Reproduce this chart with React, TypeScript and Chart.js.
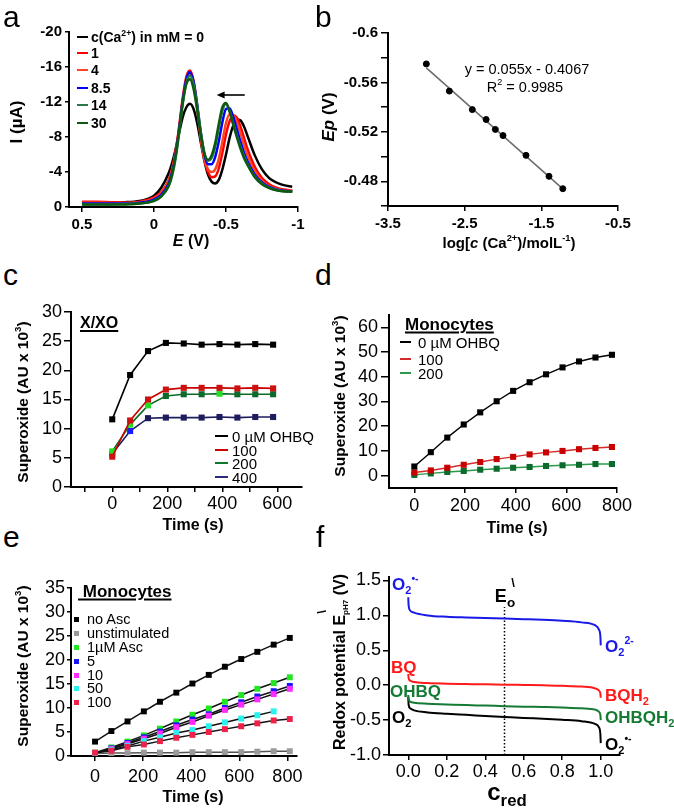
import React, { useEffect, useRef } from 'react';
import { Chart, registerables } from 'chart.js';

Chart.register(...registerables);

const FONT = "'Liberation Sans', Arial, Helvetica, sans-serif";

/* ---------------- a: differential pulse voltammograms ---------------- */
const A_E = [0.5, 0.4, 0.3, 0.2, 0.1, 0.05, 0, -0.05, -0.1, -0.125, -0.15, -0.175, -0.2, -0.225, -0.25, -0.275, -0.3, -0.325, -0.35, -0.375, -0.4, -0.425, -0.45, -0.475, -0.5, -0.525, -0.55, -0.575, -0.6, -0.625, -0.65, -0.7, -0.75, -0.8, -0.85, -0.9, -0.96];
const A_CA0 = [-0.5, -0.5, -0.5, -0.55, -0.7, -0.9, -1.3, -2.2, -3.8, -5.0, -6.6, -8.5, -10.3, -11.4, -11.8, -11.2, -9.6, -7.4, -5.3, -3.7, -2.9, -2.7, -3.1, -4.3, -6.0, -7.9, -9.3, -10.0, -9.9, -9.2, -8.1, -5.9, -4.3, -3.3, -2.8, -2.5, -2.3];
const A_CA1 = [-0.6, -0.6, -0.55, -0.5, -0.6, -0.8, -1.1, -1.7, -3.0, -4.3, -6.3, -9.2, -12.5, -14.9, -15.6, -14.4, -11.5, -8.0, -5.4, -4.0, -3.4, -3.5, -4.4, -6.2, -8.3, -9.8, -10.5, -10.2, -9.2, -7.9, -6.6, -4.6, -3.3, -2.6, -2.2, -2.0, -1.9];
const A_CA4 = [-0.5, -0.5, -0.45, -0.45, -0.55, -0.7, -1.0, -1.6, -2.9, -4.2, -6.2, -9.1, -12.3, -14.6, -15.3, -14.1, -11.3, -7.9, -5.5, -4.3, -4.0, -4.3, -5.5, -7.5, -9.6, -10.6, -10.5, -9.7, -8.5, -7.1, -5.9, -4.1, -3.0, -2.4, -2.1, -1.9, -1.85];
const A_CA8_5 = [-0.4, -0.4, -0.4, -0.4, -0.5, -0.6, -0.85, -1.4, -2.6, -3.9, -5.9, -8.9, -12.2, -14.6, -15.4, -14.3, -11.7, -8.5, -6.0, -4.9, -4.9, -5.7, -7.5, -9.7, -11.2, -11.3, -10.3, -8.9, -7.5, -6.2, -5.2, -3.7, -2.8, -2.3, -2.0, -1.85, -1.8];
const A_CA14 = [-0.3, -0.3, -0.3, -0.35, -0.4, -0.5, -0.7, -1.2, -2.3, -3.5, -5.5, -8.5, -11.8, -14.2, -15.0, -14.0, -11.6, -8.6, -6.2, -5.3, -5.6, -6.9, -9.0, -11.0, -11.8, -11.0, -9.6, -8.2, -6.9, -5.8, -4.9, -3.5, -2.7, -2.2, -1.95, -1.8, -1.75];
const A_CA30 = [-0.3, -0.3, -0.3, -0.3, -0.4, -0.5, -0.7, -1.2, -2.4, -3.7, -5.8, -8.8, -12.0, -14.1, -14.6, -13.5, -11.1, -8.3, -6.1, -5.4, -5.9, -7.3, -9.5, -11.4, -11.9, -10.9, -9.4, -8.0, -6.7, -5.6, -4.8, -3.4, -2.6, -2.15, -1.9, -1.8, -1.75];
const A_SERIES = [A_CA0, A_CA1, A_CA4, A_CA8_5, A_CA14, A_CA30];
const A_LEGEND = ['0', '1', '4', '8.5', '14', '30'];
const A_COLORS = ['#000000', '#ff0000', '#ff4422', '#0000ff', '#2a7a48', '#0c5a12'];
const A_X_TICKS = [0.5, 0, -0.5, -1];
const A_X_LABELS = ['0.5', '0', '-0.5', '-1'];
const A_Y_TICKS = [-20, -16, -12, -8, -4, 0];
const A_ARROW = { from: -0.63, to: -0.435, at: -12.8 };

/* ---------------- b: Ep vs log c ---------------- */
const B_LOGC = [-3.0, -2.7, -2.4, -2.22, -2.1, -2.0, -1.7, -1.4, -1.22];
const B_EP = [-0.575, -0.553, -0.538, -0.53, -0.522, -0.517, -0.501, -0.484, -0.474];
const B_FIT_X = [-3.0, -1.22];
const B_FIT_Y = [-0.5717, -0.4738];
const B_X_TICKS = [-3.5, -2.5, -1.5, -0.5];
const B_Y_TICKS = [-0.6, -0.58, -0.56, -0.54, -0.52, -0.5, -0.48, -0.46];
const B_Y_LABELS = ['-0.6', '', '-0.56', '', '-0.52', '', '-0.48', ''];

/* ---------------- c: X/XO ---------------- */
const C_T = [0, 65, 130, 195, 260, 325, 390, 455, 520, 585];
const C_OHBQ0 = [11.6, 19.2, 23.3, 24.7, 24.6, 24.4, 24.5, 24.4, 24.5, 24.4];
const C_OHBQ100 = [5.2, 11.4, 15.0, 16.7, 17.0, 17.0, 17.0, 16.9, 17.0, 16.9];
const C_OHBQ200 = [6.1, 10.7, 14.0, 15.6, 15.9, 15.9, 16.0, 15.9, 15.9, 15.9];
const C_OHBQ400 = [5.7, 9.6, 11.8, 11.9, 11.9, 11.9, 12.0, 11.9, 12.0, 12.0];
const C_LEGEND = ['0 µM OHBQ', '100', '200', '400'];
const C_X_TICKS = [-100, 0, 100, 200, 300, 400, 500, 600];
const C_X_LABELS = ['', '0', '', '200', '', '400', '', '600'];
const C_Y_TICKS = [0, 5, 10, 15, 20, 25, 30];

/* ---------------- d: monocytes OHBQ ---------------- */
const D_T = [0, 65, 130, 195, 260, 325, 390, 455, 520, 585, 650, 715, 780];
const D_OHBQ0 = [3.7, 9.5, 15.4, 20.7, 25.6, 30.1, 34.3, 37.8, 41.0, 43.8, 46.2, 47.8, 48.9];
const D_OHBQ100 = [1.3, 2.1, 3.2, 4.4, 5.5, 6.7, 7.6, 8.6, 9.4, 10.0, 10.7, 11.2, 11.6];
const D_OHBQ200 = [0.3, 0.9, 1.5, 1.9, 2.4, 2.8, 3.2, 3.5, 3.9, 4.2, 4.4, 4.7, 4.7];
const D_LEGEND = ['0 µM OHBQ', '100', '200'];
const D_X_TICKS = [0, 200, 400, 600, 800];
const D_Y_TICKS = [0, 10, 20, 30, 40, 50, 60];

/* ---------------- e: monocytes ascorbate ---------------- */
const E_T = [0, 68, 135, 203, 270, 338, 405, 473, 540, 608, 675, 743, 810];
const E_NOASC = [3.0, 5.2, 7.2, 9.3, 11.3, 13.2, 15.1, 16.9, 18.6, 20.2, 21.7, 23.2, 24.6];
const E_UNSTIM = [0.5, 0.6, 0.6, 0.7, 0.7, 0.7, 0.8, 0.8, 0.8, 0.8, 0.9, 1.0, 1.0];
const E_ASC1 = [0.7, 1.8, 3.0, 4.3, 5.7, 7.2, 8.6, 9.9, 11.3, 12.7, 14.0, 15.2, 16.4];
const E_ASC5 = [0.6, 1.6, 2.7, 3.9, 5.1, 6.4, 7.6, 8.7, 10.0, 11.2, 12.4, 13.5, 14.6];
const E_ASC10 = [0.6, 1.5, 2.5, 3.6, 4.7, 6.0, 7.1, 8.4, 9.6, 10.7, 11.8, 12.9, 14.0];
const E_ASC50 = [0.6, 1.3, 2.1, 3.1, 3.9, 4.8, 5.4, 6.2, 7.0, 7.8, 8.5, 9.3];
const E_ASC100 = [0.7, 1.1, 1.9, 2.4, 3.1, 3.8, 4.4, 5.0, 5.6, 6.2, 6.8, 7.4, 7.7];
const E_LEGEND = ['no Asc', 'unstimulated', '1µM Asc', '5', '10', '50', '100'];
const E_COLORS = ['#000000', '#9a9a9a', '#22e622', '#1414ff', '#ff2aff', '#2af0f0', '#f0204a'];
const E_X_TICKS = [0, 200, 400, 600, 800];
const E_Y_TICKS = [0, 5, 10, 15, 20, 25, 30, 35];

/* ---------------- f: redox potentials ---------------- */
const F_C = [0, 0.002, 0.01, 0.03, 0.1, 0.2, 0.3, 0.4, 0.5, 0.6, 0.7, 0.8, 0.9, 0.97, 0.99, 0.998, 1.0];
const F_O2M = [1.26, 1.14, 1.07, 1.04, 1.0, 0.98, 0.97, 0.962, 0.955, 0.946, 0.936, 0.922, 0.9, 0.86, 0.8, 0.7, 0.57];
const F_BQ = [0.16, 0.1, 0.065, 0.045, 0.03, 0.022, 0.017, 0.012, 0.008, 0.003, -0.002, -0.008, -0.02, -0.045, -0.075, -0.12, -0.18];
const F_OHBQ = [-0.14, -0.2, -0.235, -0.25, -0.265, -0.275, -0.285, -0.292, -0.3, -0.307, -0.313, -0.32, -0.33, -0.35, -0.38, -0.43, -0.5];
const F_O2 = [-0.17, -0.28, -0.33, -0.36, -0.39, -0.41, -0.425, -0.44, -0.455, -0.47, -0.48, -0.495, -0.515, -0.555, -0.6, -0.7, -0.83];
const F_E0_X = [0.5, 0.5];
const F_E0_Y = [-1.0, 1.12];
const F_X_TICKS = [0, 0.2, 0.4, 0.6, 0.8, 1.0];
const F_Y_TICKS = [-1.0, -0.5, 0, 0.5, 1.0, 1.5];

/* ---------------- helpers ---------------- */
type Box = { left: number; top: number; width: number; height: number; wy: number; hx: number; pt: number; pr: number };
function place(L: number, T: number, R: number, B: number, wy: number, pt: number, pr: number, hx: number): Box {
  return { left: L - wy, top: T - pt, width: wy + (R - L) + pr, height: pt + (B - T) + hx, wy, hx, pt, pr };
}

function axis(o: {
  min: number; max: number; ticks: number[]; labels?: string[]; fmt?: (v: number) => string;
  reverse?: boolean; size: number; tl: number; pad: number; font: any; horizontal: boolean;
}) {
  return {
    type: 'linear',
    min: o.min,
    max: o.max,
    reverse: !!o.reverse,
    afterBuildTicks: (s: any) => {
      s.ticks = o.ticks.map((v) => ({ value: v }));
    },
    afterFit: (s: any) => {
      if (o.horizontal) s.height = o.size;
      else s.width = o.size;
    },
    grid: { drawOnChartArea: false, drawTicks: true, tickLength: o.tl, tickWidth: 1.5, tickColor: '#000', color: '#000', lineWidth: 1.5 },
    border: { display: true, color: '#000', width: 2 },
    ticks: {
      color: '#000', font: o.font, padding: o.pad, autoSkip: false, maxRotation: 0, minRotation: 0,
      callback: (v: number, i: number) => (o.labels ? o.labels[i] : o.fmt ? o.fmt(v) : String(v)),
    },
  };
}

function config(box: Box, xs: any, ys: any, datasets: any[], plugins: any[] = []) {
  return {
    type: 'scatter',
    data: { datasets },
    options: {
      responsive: false,
      animation: false,
      devicePixelRatio: 1,
      layout: { padding: { left: 0, top: box.pt, right: box.pr, bottom: 0 } },
      plugins: { legend: { display: false }, tooltip: { enabled: false }, title: { display: false } },
      scales: { x: xs, y: ys },
    },
    plugins,
  };
}

const pts = (xs: number[], ys: number[]) => ys.map((y, i) => ({ x: xs[i], y }));

function ChartCanvas({ box, build }: { box: Box; build: () => any }) {
  const ref = useRef<HTMLCanvasElement | null>(null);
  useEffect(() => {
    if (!ref.current) return;
    const chart = new Chart(ref.current, build());
    return () => chart.destroy();
  }, []);
  return (
    <canvas
      ref={ref}
      width={box.width}
      height={box.height}
      style={{ position: 'absolute', left: box.left, top: box.top, width: box.width, height: box.height }}
    />
  );
}

function Tx(p: { x: number; y: number; s?: number; b?: boolean; i?: boolean; c?: string; rot?: boolean; al?: string; ul?: boolean; sx?: number; children: any }) {
  const tx = p.al === 'l' ? '0%' : p.al === 'r' ? '-100%' : '-50%';
  return (
    <div
      style={{
        position: 'absolute', left: p.x, top: p.y,
        transform: `translate(${tx},-50%)` + (p.rot ? ' rotate(-90deg)' : '') + (p.sx ? ` scaleX(${p.sx})` : ''),
        transformOrigin: p.sx ? 'left center' : undefined,
        fontFamily: FONT, fontSize: p.s ?? 15, fontWeight: p.b ? 'bold' : 'normal', fontStyle: p.i ? 'italic' : 'normal',
        color: p.c ?? '#000', whiteSpace: 'nowrap', lineHeight: 1, textDecoration: p.ul ? 'underline' : 'none',
        textDecorationThickness: p.ul ? 1.5 : undefined, textUnderlineOffset: p.ul ? 2 : undefined,
      }}
    >
      {p.children}
    </div>
  );
}
const Sup = ({ children, f = 0.62 }: any) => (
  <span style={{ fontSize: `${f}em`, position: 'relative', top: '-0.75em' }}>{children}</span>
);
const Sub = ({ children, f = 0.65 }: any) => (
  <span style={{ fontSize: `${f}em`, position: 'relative', top: '0.35em' }}>{children}</span>
);
const Line = ({ x, y, w, c, h = 2.5 }: any) => (
  <div style={{ position: 'absolute', left: x, top: y - h / 2, width: w, height: h, background: c }} />
);
const Sq = ({ x, y, c, s = 5 }: any) => (
  <div style={{ position: 'absolute', left: x - s / 2, top: y - s / 2, width: s, height: s, background: c }} />
);

/* ---------------- boxes ---------------- */
const BOX_A = place(69, 32, 298, 207, 50, 16, 16, 36);
const BOX_B = place(388, 33, 618, 206, 50, 16, 18, 36);
const BOX_C = place(71, 312, 302, 487, 50, 16, 18, 36);
const BOX_D = place(389, 315, 617, 488, 50, 16, 22, 36);
const BOX_E = place(71, 588, 297, 756, 50, 16, 26, 36);
const BOX_F = place(389, 577, 620, 755, 50, 16, 22, 36);

const boldTick = (s: number) => ({ family: FONT, size: s, weight: 'bold' });
const regTick = (s: number) => ({ family: FONT, size: s, weight: 'normal' });

const arrowPlugin = {
  id: 'arrowA',
  afterDatasetsDraw(chart: any) {
    const { ctx, scales } = chart;
    const x1 = scales.x.getPixelForValue(A_ARROW.from);
    const x2 = scales.x.getPixelForValue(A_ARROW.to);
    const y = scales.y.getPixelForValue(A_ARROW.at);
    ctx.save();
    ctx.strokeStyle = '#000';
    ctx.fillStyle = '#000';
    ctx.lineWidth = 1.6;
    ctx.beginPath();
    ctx.moveTo(x1, y);
    ctx.lineTo(x2 + 5, y);
    ctx.stroke();
    ctx.beginPath();
    ctx.moveTo(x2, y);
    ctx.lineTo(x2 + 8, y - 3.5);
    ctx.lineTo(x2 + 8, y + 3.5);
    ctx.closePath();
    ctx.fill();
    ctx.restore();
  },
};

const buildA = () =>
  config(
    BOX_A,
    axis({ min: -1, max: 0.59, reverse: true, ticks: A_X_TICKS, labels: A_X_LABELS, size: BOX_A.hx, tl: 5, pad: 4, font: boldTick(15), horizontal: true }),
    axis({ min: -20, max: 0, reverse: true, ticks: A_Y_TICKS, fmt: (v) => String(v), size: BOX_A.wy, tl: 4, pad: 3, font: boldTick(15), horizontal: false }),
    A_SERIES.map((ys, k) => ({
      data: pts(A_E, ys),
      showLine: true,
      borderColor: A_COLORS[k],
      borderWidth: 2.5,
      pointRadius: 0,
      cubicInterpolationMode: 'monotone',
      order: A_SERIES.length - k,
    })),
    [arrowPlugin]
  );

const buildB = () =>
  config(
    BOX_B,
    axis({ min: -3.5, max: -0.5, ticks: B_X_TICKS, fmt: (v) => v.toFixed(1), size: BOX_B.hx, tl: 5, pad: 4, font: boldTick(15), horizontal: true }),
    axis({ min: -0.6, max: -0.46, reverse: true, ticks: B_Y_TICKS, labels: B_Y_LABELS, size: BOX_B.wy, tl: 7, pad: 3, font: boldTick(15), horizontal: false }),
    [
      { data: pts(B_LOGC, B_EP), showLine: false, pointRadius: 3, pointBackgroundColor: '#000', pointBorderColor: '#000', order: 0 },
      { data: pts(B_FIT_X, B_FIT_Y), showLine: true, borderColor: '#6e6e6e', borderWidth: 1.6, pointRadius: 0, order: 1 },
    ]
  );

const LIME = '#22dd22';
const DKG = '#0c6b2c';
const BLU = '#1a1aff';
const NAVY = '#1c1c5e';
const C_STYLE = [
  { line: '#000000', marks: '#000000' },
  { line: '#cc0000', marks: '#cc1111' },
  { line: '#0b6b25', marks: [LIME, LIME, LIME, DKG, DKG, DKG, LIME, DKG, DKG, DKG] },
  { line: '#1c1c5e', marks: [BLU, BLU, NAVY, NAVY, NAVY, NAVY, NAVY, NAVY, NAVY, NAVY] },
];
const C_LEG_COLORS = ['#000000', '#cc0000', '#0b7a2a', '#2a2a7a'];

const buildC = () =>
  config(
    BOX_C,
    axis({ min: -150, max: 690, ticks: C_X_TICKS, labels: C_X_LABELS, size: BOX_C.hx, tl: 5, pad: 1, font: regTick(18), horizontal: true }),
    axis({ min: 0, max: 30, ticks: C_Y_TICKS, fmt: (v) => String(v), size: BOX_C.wy, tl: 7, pad: 2, font: regTick(18), horizontal: false }),
    [C_OHBQ0, C_OHBQ100, C_OHBQ200, C_OHBQ400].map((ys, k) => ({
      data: pts(C_T, ys),
      showLine: true,
      borderColor: C_STYLE[k].line,
      borderWidth: 1.6,
      pointStyle: 'rect',
      pointRadius: 4.3,
      pointBorderWidth: 0,
      pointBackgroundColor: C_STYLE[k].marks,
      order: k,
    }))
  );

const D_STYLE = [
  { line: '#000000', marks: '#000000' },
  { line: '#d42a2a', marks: '#c80000' },
  { line: '#2a9a4a', marks: '#0c6b2c' },
];

const buildD = () =>
  config(
    BOX_D,
    axis({ min: -100, max: 800, ticks: D_X_TICKS, fmt: (v) => String(v), size: BOX_D.hx, tl: 5, pad: 2, font: regTick(18), horizontal: true }),
    axis({ min: -5, max: 65, ticks: D_Y_TICKS, fmt: (v) => String(v), size: BOX_D.wy, tl: 8, pad: 3, font: regTick(18), horizontal: false }),
    [D_OHBQ0, D_OHBQ100, D_OHBQ200].map((ys, k) => ({
      data: pts(D_T, ys),
      showLine: true,
      borderColor: D_STYLE[k].line,
      borderWidth: 1.4,
      pointStyle: 'rect',
      pointRadius: 4.3,
      pointBorderWidth: 0,
      pointBackgroundColor: D_STYLE[k].marks,
      order: k,
    }))
  );

const buildE = () =>
  config(
    BOX_E,
    axis({ min: -100, max: 840, ticks: E_X_TICKS, fmt: (v) => String(v), size: BOX_E.hx, tl: 5, pad: 5, font: regTick(18), horizontal: true }),
    axis({ min: 0, max: 35, ticks: E_Y_TICKS, fmt: (v) => String(v), size: BOX_E.wy, tl: 4, pad: 2, font: regTick(18), horizontal: false }),
    [E_NOASC, E_UNSTIM, E_ASC1, E_ASC5, E_ASC10, E_ASC50, E_ASC100].map((ys, k) => ({
      data: pts(E_T, ys),
      showLine: true,
      borderColor: k === 1 ? '#555555' : '#111111',
      borderWidth: 1.5,
      pointStyle: 'rect',
      pointRadius: 4.2,
      pointBorderWidth: 0,
      pointBackgroundColor: E_COLORS[k],
      order: k === 0 ? 0 : 7 - k,
    }))
  );

const F_COLORS = ['#1a1ae6', '#ff1a1a', '#147a34', '#000000'];
const buildF = () =>
  config(
    BOX_F,
    axis({ min: -0.1, max: 1.1, ticks: F_X_TICKS, fmt: (v) => v.toFixed(1), size: BOX_F.hx, tl: 5, pad: 1, font: regTick(18), horizontal: true }),
    axis({ min: -1.0, max: 1.55, ticks: F_Y_TICKS, fmt: (v) => v.toFixed(1), size: BOX_F.wy, tl: 6, pad: 2, font: regTick(18), horizontal: false }),
    [
      ...[F_O2M, F_BQ, F_OHBQ, F_O2].map((ys, k) => ({
        data: pts(F_C, ys),
        showLine: true,
        borderColor: F_COLORS[k],
        borderWidth: 2,
        pointRadius: 0,
        cubicInterpolationMode: 'monotone',
        order: k,
      })),
      { data: pts(F_E0_X, F_E0_Y), showLine: true, borderColor: '#000', borderWidth: 1.5, borderDash: [1.5, 2], pointRadius: 0, order: 5 },
    ]
  );

const A_ROWS = [37, 53, 70, 88, 105, 123];
const C_ROWS = [436, 450, 463, 477];
const D_ROWS = [342, 359, 373];
const E_ROWS = [619, 633, 647, 661, 675, 688, 702];

export default function App() {
  return (
    <div style={{ position: 'absolute', left: 0, top: 0, width: 674, height: 810, background: '#fff', overflow: 'hidden' }}>
      <ChartCanvas box={BOX_A} build={buildA} />
      <ChartCanvas box={BOX_B} build={buildB} />
      <ChartCanvas box={BOX_C} build={buildC} />
      <ChartCanvas box={BOX_D} build={buildD} />
      <ChartCanvas box={BOX_E} build={buildE} />
      <ChartCanvas box={BOX_F} build={buildF} />

      {/* panel letters */}
      <Tx x={3} y={17} s={30} al="l">a</Tx>
      <Tx x={315} y={17} s={30} al="l">b</Tx>
      <Tx x={3} y={275} s={30} al="l">c</Tx>
      <Tx x={315} y={275} s={30} al="l">d</Tx>
      <Tx x={3} y={537} s={30} al="l">e</Tx>
      <Tx x={316} y={537} s={30} al="l">f</Tx>

      {/* a */}
      <Tx x={16} y={122} s={17} b rot>I (µA)</Tx>
      <Tx x={191} y={241} s={16} b><i>E</i> (V)</Tx>
      {A_LEGEND.map((t, k) => (
        <React.Fragment key={'al' + k}>
          <Line x={77} y={A_ROWS[k]} w={11} c={A_COLORS[k]} h={2.6} />
          <Tx x={91} y={A_ROWS[k]} s={14} b al="l">
            {k === 0 ? (
              <>c(Ca<Sup>2+</Sup>) in mM = {t}</>
            ) : (
              t
            )}
          </Tx>
        </React.Fragment>
      ))}

      {/* b */}
      <Tx x={328} y={117} s={17} b rot><i>Ep</i> (V)</Tx>
      <Tx x={509} y={243} s={15} b>log[<i>c</i> (Ca<Sup>2+</Sup>)/molL<Sup>-1</Sup>)</Tx>
      <Tx x={527} y={69} s={14.5}>y = 0.055x - 0.4067</Tx>
      <Tx x={525} y={87} s={14.5}>R<Sup>2</Sup> = 0.9985</Tx>

      {/* c */}
      <Tx x={23} y={402} s={15.5} b rot>Superoxide (AU x 10<Sup>3</Sup>)</Tx>
      <Tx x={193} y={525} s={16} b>Time (s)</Tx>
      <Tx x={80} y={323} s={16} b al="l" ul>X/XO</Tx>
      {C_LEGEND.map((t, k) => (
        <React.Fragment key={'cl' + k}>
          <Line x={215} y={C_ROWS[k]} w={13} c={C_LEG_COLORS[k]} h={2} />
          <Tx x={232} y={C_ROWS[k]} s={15} al="l">{t}</Tx>
        </React.Fragment>
      ))}

      {/* d */}
      <Tx x={340} y={396} s={15.5} b rot>Superoxide (AU x 10<Sup>3</Sup>)</Tx>
      <Tx x={517} y={528} s={16} b>Time (s)</Tx>
      <Tx x={405} y={324} s={17} b al="l" ul>Monocytes</Tx>
      {D_LEGEND.map((t, k) => (
        <React.Fragment key={'dl' + k}>
          <Line x={400} y={D_ROWS[k]} w={11} c={D_STYLE[k].line} h={2} />
          <Tx x={418} y={D_ROWS[k]} s={15} al="l">{t}</Tx>
        </React.Fragment>
      ))}

      {/* e */}
      <Tx x={23} y={666} s={15.5} b rot>Superoxide (AU x 10<Sup>3</Sup>)</Tx>
      <Tx x={193} y={797} s={16} b>Time (s)</Tx>
      <Tx x={78} y={591} s={17} b al="l" ul>{'\u00a0Monocytes'}</Tx>
      {E_LEGEND.map((t, k) => (
        <React.Fragment key={'el' + k}>
          <Sq x={76} y={E_ROWS[k]} c={E_COLORS[k]} s={5} />
          <Tx x={87} y={E_ROWS[k]} s={14.5} al="l">{t}</Tx>
        </React.Fragment>
      ))}

      {/* f */}
      <Tx x={340} y={662} s={16} b rot>Redox potential E<Sub f={0.5}>pH7</Sub> (V)</Tx>
      <Tx x={321} y={612} s={13} b rot>\</Tx>
      <Tx x={507} y={792} s={24} b>c<Sub f={0.7}>red</Sub></Tx>
      <Tx x={505} y={596} s={18} b>E<Sub f={0.75}>o</Sub></Tx>
      <Tx x={513} y={582} s={13} b>\</Tx>
      <Tx x={392} y={584} s={17} b c="#1a1ae6" al="l">O<Sub>2</Sub><Sup>•-</Sup></Tx>
      <Tx x={605} y={646} s={17} b c="#1a1ae6" al="l">O<Sub>2</Sub><Sup>2-</Sup></Tx>
      <Tx x={391} y={667} s={17} b c="#ff1a1a" al="l">BQ</Tx>
      <Tx x={605} y={695} s={17} b c="#ff1a1a" al="l">BQH<Sub>2</Sub></Tx>
      <Tx x={390} y={691} s={17} b c="#147a34" al="l">OHBQ</Tx>
      <Tx x={605} y={717} s={17} b c="#147a34" al="l">OHBQH<Sub>2</Sub></Tx>
      <Tx x={392} y={717} s={17} b al="l">O<Sub>2</Sub></Tx>
      <Tx x={605} y={744} s={17} b al="l">O<Sub>2</Sub><Sup>•-</Sup></Tx>
    </div>
  );
}
